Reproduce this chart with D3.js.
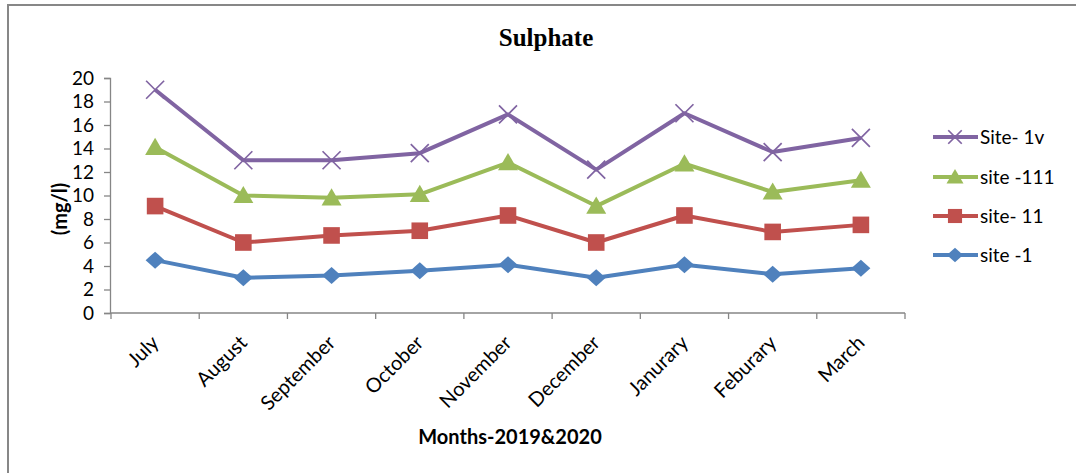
<!DOCTYPE html>
<html>
<head>
<meta charset="utf-8">
<script src="https://cdn.jsdelivr.net/npm/d3@7"></script>
<style>
  html, body { margin: 0; padding: 0; background: #fff; }
  svg { display: block; }
</style>
</head>
<body>
<svg id="chart" width="1076" height="473"></svg>
<script>
// Monthly sulphate readings (mg/l) at four sampling sites
const months = ["July", "August", "September", "October", "November", "December", "Janurary", "Feburary", "March"];
const site1v  = [19.0, 13.0, 13.0, 13.6, 16.9, 12.2, 17.0, 13.7, 14.9];
const site111 = [14.1, 10.0, 9.8, 10.1, 12.8, 9.1, 12.7, 10.3, 11.3];
const site11  = [9.1, 6.0, 6.6, 7.0, 8.3, 6.0, 8.3, 6.9, 7.5];
const site1   = [4.5, 3.0, 3.2, 3.6, 4.1, 3.0, 4.1, 3.3, 3.8];
const yTicks  = [0, 2, 4, 6, 8, 10, 12, 14, 16, 18, 20];

const series = [
  { name: "Site- 1v",  values: site1v,  color: "#8064A2", marker: "x" },
  { name: "site -111", values: site111, color: "#9BBB59", marker: "triangle" },
  { name: "site- 11",  values: site11,  color: "#C0504D", marker: "square" },
  { name: "site -1",   values: site1,   color: "#4F81BD", marker: "diamond" }
];

const svg = d3.select("#chart");
const font = "Lato, 'Open Sans', sans-serif";
const axisColor = "#868686";

// outer frame
svg.append("rect")
  .attr("x", 8).attr("y", 5).attr("width", 1080).attr("height", 480)
  .attr("fill", "none").attr("stroke", "#878787").attr("stroke-width", 2);

const plot = { left: 111, right: 905, top: 78, bottom: 313 };

const x = d3.scaleBand().domain(months).range([plot.left, plot.right]);
const y = d3.scaleLinear().domain([0, 20]).range([plot.bottom, plot.top]);

// title
svg.append("text")
  .attr("x", 546).attr("y", 46)
  .attr("text-anchor", "middle")
  .attr("font-family", "'Liberation Serif', 'Times New Roman', serif")
  .attr("font-weight", "bold").attr("font-size", 25)
  .attr("fill", "#000")
  .text("Sulphate");

// y axis
const yAxis = svg.append("g")
  .attr("transform", `translate(${plot.left - 1},0)`)
  .call(d3.axisLeft(y).tickValues(yTicks).tickSize(6).tickPadding(10).tickFormat(d3.format("d")));
yAxis.select(".domain").attr("stroke", axisColor).attr("stroke-width", 1.3);
yAxis.selectAll(".tick line").attr("stroke", axisColor).attr("stroke-width", 1.3);
yAxis.selectAll(".tick text")
  .attr("font-family", font).attr("font-size", 19).attr("fill", "#000");

// x axis: ticks sit on the category boundaries
const xAxis = svg.append("g")
  .attr("transform", `translate(0,${plot.bottom})`);
xAxis.append("line")
  .attr("x1", plot.left - 1).attr("x2", plot.right)
  .attr("stroke", axisColor).attr("stroke-width", 1.3);
const boundaries = months.map(m => x(m)).concat([x(months[months.length - 1]) + x.bandwidth()]);
xAxis.selectAll("line.tick")
  .data(boundaries)
  .join("line")
  .attr("class", "tick")
  .attr("x1", d => d).attr("x2", d => d)
  .attr("y1", 0).attr("y2", 6)
  .attr("stroke", axisColor).attr("stroke-width", 1.3);
xAxis.selectAll("text")
  .data(months)
  .join("text")
  .attr("transform", d => `translate(${x(d) + x.bandwidth() / 2 + 5},${31}) rotate(-45)`)
  .attr("text-anchor", "end")
  .attr("font-family", font).attr("font-size", 20).attr("fill", "#000")
  .text(d => d);

// axis titles
svg.append("text")
  .attr("transform", `translate(67,209) rotate(-90)`)
  .attr("text-anchor", "middle")
  .attr("font-family", font).attr("font-weight", "bold").attr("font-size", 20)
  .attr("fill", "#000")
  .text("(mg/l)");

svg.append("text")
  .attr("x", 510).attr("y", 444)
  .attr("text-anchor", "middle")
  .attr("font-family", font).attr("font-weight", "bold").attr("font-size", 20)
  .attr("fill", "#000")
  .text("Months-2019&2020");

// marker drawing helper
function drawMarker(g, type, color, cx, cy, scale) {
  const s = scale || 1;
  if (type === "diamond") {
    const rx = 9.5 * s, ry = 8.5 * s;
    g.append("path")
      .attr("d", `M${cx},${cy - ry}L${cx + rx},${cy}L${cx},${cy + ry}L${cx - rx},${cy}Z`)
      .attr("fill", color);
  } else if (type === "square") {
    const h = 8.3 * s;
    g.append("rect")
      .attr("x", cx - h).attr("y", cy - h).attr("width", 2 * h).attr("height", 2 * h)
      .attr("fill", color);
  } else if (type === "triangle") {
    const w = 10 * s, h = 9.5 * s;
    g.append("path")
      .attr("d", `M${cx},${cy - h}L${cx + w},${cy + h * 0.8}L${cx - w},${cy + h * 0.8}Z`)
      .attr("fill", color);
  } else if (type === "x") {
    const h = 9 * s;
    g.append("path")
      .attr("d", `M${cx - h},${cy - h}L${cx + h},${cy + h}M${cx - h},${cy + h}L${cx + h},${cy - h}`)
      .attr("stroke", color).attr("stroke-width", 1.7).attr("fill", "none");
  }
}

const line = d3.line()
  .x((d, i) => x(months[i]) + x.bandwidth() / 2)
  .y(d => y(d));

// series lines and markers (bottom series drawn first)
series.slice().reverse().forEach(s => {
  const g = svg.append("g");
  g.append("path")
    .attr("d", line(s.values))
    .attr("fill", "none")
    .attr("stroke", s.color)
    .attr("stroke-width", 4)
    .attr("stroke-linejoin", "round");
  s.values.forEach((v, i) => {
    drawMarker(g, s.marker, s.color, x(months[i]) + x.bandwidth() / 2, y(v));
  });
});

// legend
const legendRows = [137, 177, 216, 255];
series.forEach((s, i) => {
  const g = svg.append("g");
  const ly = legendRows[i];
  g.append("line")
    .attr("x1", 933).attr("x2", 978).attr("y1", ly).attr("y2", ly)
    .attr("stroke", s.color).attr("stroke-width", 4);
  drawMarker(g, s.marker, s.color, 955, ly, s.marker === "x" ? 0.75 : 0.85);
  g.append("text")
    .attr("x", 980).attr("y", ly + 7)
    .attr("font-family", font).attr("font-size", 19).attr("fill", "#000")
    .text(s.name);
});
</script>
</body>
</html>
